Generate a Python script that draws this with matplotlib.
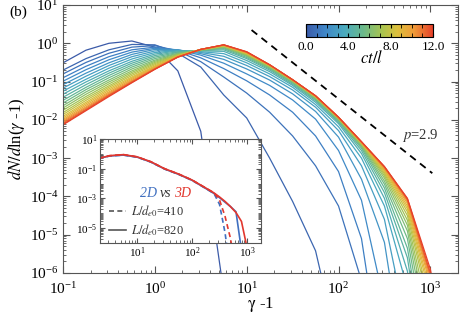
import numpy as np
import matplotlib
matplotlib.use("Agg")
import matplotlib.pyplot as plt
from matplotlib.colors import LinearSegmentedColormap
from matplotlib.lines import Line2D
from matplotlib.ticker import LogLocator, NullFormatter

plt.rcParams['font.family'] = ['Liberation Serif', 'DejaVu Serif']
plt.rcParams['mathtext.fontset'] = 'stix'

# ---- main panel data: log10(dN/dln(gamma-1)) on a shared log10(gamma-1) grid
log_g = [-1.0, -0.75, -0.5, -0.25, 0.0, 0.25, 0.5, 0.75, 1.0, 1.25, 1.5, 1.75,
         2.0, 2.25, 2.5, 2.75, 3.0, 3.25]
nan = np.nan
t_values = [0.0, 0.5, 1.0, 1.5, 2.0, 2.5, 3.0, 3.5, 4.0, 4.5, 5.0, 5.5, 6.0,
            6.5, 7.0, 7.5, 8.0, 8.5, 9.0, 9.5, 10.0, 10.5, 11.0, 11.5, 12.0]

c00 = [-0.51, -0.18, 0.0, 0.06, -0.10, -0.72, -2.3, -6.5, nan, nan, nan, nan, nan, nan, nan, nan, nan, nan]
c01 = [-0.70, -0.40, -0.17, -0.03, -0.04, -0.26, -0.62, -1.35, -1.95, -3.0, -4.13, -5.42, -8.0, nan, nan, nan, nan, nan]
c02 = [-0.80, -0.50, -0.26, -0.10, -0.06, -0.20, -0.48, -0.88, -1.30, -1.80, -2.42, -3.2, -4.25, -6.2, -10, nan, nan, nan]
c03 = [-0.90, -0.60, -0.35, -0.17, -0.10, -0.18, -0.38, -0.66, -0.98, -1.35, -1.80, -2.42, -3.35, -5.1, -9, nan, nan, nan]
c04 = [-0.99, -0.69, -0.43, -0.23, -0.13, -0.17, -0.31, -0.52, -0.80, -1.10, -1.48, -1.98, -2.8, -4.1, -6.8, -10, nan, nan]
c05 = [-1.08, -0.78, -0.51, -0.29, -0.16, -0.17, -0.27, -0.42, -0.67, -0.96, -1.32, -1.78, -2.45, -3.55, -5.2, -9, nan, nan]
c06 = [-1.17, -0.86, -0.58, -0.35, -0.20, -0.18, -0.24, -0.34, -0.58, -0.87, -1.22, -1.67, -2.28, -3.2, -4.6, -7.5, -11, nan]
c07 = [-1.25, -0.94, -0.65, -0.41, -0.24, -0.19, -0.22, -0.27, -0.51, -0.80, -1.15, -1.60, -2.18, -3.0, -4.25, -6.4, -11, nan]
c08 = [-1.33, -1.01, -0.72, -0.47, -0.28, -0.20, -0.20, -0.21, -0.45, -0.74, -1.10, -1.54, -2.10, -2.88, -4.05, -5.95, -10, nan]
c09 = [-1.41, -1.08, -0.78, -0.52, -0.32, -0.22, -0.19, -0.17, -0.40, -0.70, -1.07, -1.50, -2.06, -2.8, -3.9, -5.6, -9.5, nan]
c10 = [-1.49, -1.15, -0.84, -0.57, -0.36, -0.24, -0.185, -0.14, -0.37, -0.67, -1.04, -1.47, -2.03, -2.74, -3.78, -5.35, -8.8, nan]
c11 = [-1.56, -1.21, -0.90, -0.62, -0.40, -0.26, -0.18, -0.12, -0.34, -0.65, -1.02, -1.45, -2.01, -2.70, -3.68, -5.1, -8.4, nan]
c12 = [-1.63, -1.27, -0.96, -0.67, -0.44, -0.27, -0.175, -0.10, -0.32, -0.63, -1.00, -1.43, -1.99, -2.67, -3.6, -4.9, -8.0, nan]
c13 = [-1.69, -1.33, -1.01, -0.72, -0.47, -0.29, -0.17, -0.09, -0.30, -0.61, -0.99, -1.42, -1.98, -2.65, -3.52, -4.75, -7.6, nan]
c14 = [-1.75, -1.39, -1.06, -0.76, -0.50, -0.30, -0.17, -0.08, -0.29, -0.60, -0.98, -1.41, -1.97, -2.63, -3.46, -4.62, -7.3, nan]
c15 = [-1.81, -1.44, -1.11, -0.80, -0.53, -0.31, -0.165, -0.07, -0.28, -0.59, -0.975, -1.40, -1.96, -2.62, -3.41, -4.5, -7.0, nan]
c16 = [-1.86, -1.49, -1.15, -0.84, -0.56, -0.32, -0.165, -0.065, -0.27, -0.585, -0.97, -1.395, -1.955, -2.61, -3.37, -4.4, -6.8, nan]
c17 = [-1.91, -1.54, -1.19, -0.88, -0.59, -0.33, -0.16, -0.06, -0.26, -0.58, -0.965, -1.39, -1.95, -2.60, -3.33, -4.32, -6.6, nan]
c18 = [-1.95, -1.58, -1.23, -0.91, -0.61, -0.34, -0.16, -0.055, -0.25, -0.575, -0.96, -1.385, -1.945, -2.595, -3.30, -4.25, -6.45, nan]
c19 = [-1.99, -1.62, -1.27, -0.94, -0.63, -0.345, -0.16, -0.05, -0.245, -0.57, -0.958, -1.38, -1.94, -2.59, -3.28, -4.18, -6.3, -10]
c20 = [-2.02, -1.66, -1.30, -0.97, -0.65, -0.35, -0.16, -0.048, -0.24, -0.567, -0.956, -1.378, -1.937, -2.585, -3.26, -4.13, -6.2, -10]
c21 = [-2.05, -1.69, -1.33, -0.99, -0.66, -0.355, -0.16, -0.045, -0.235, -0.565, -0.954, -1.376, -1.935, -2.58, -3.24, -4.10, -6.1, -9.5]
c22 = [-2.08, -1.72, -1.35, -1.01, -0.67, -0.36, -0.16, -0.043, -0.23, -0.563, -0.952, -1.374, -1.933, -2.577, -3.23, -4.08, -6.05, -9.5]
c23 = [-2.11, -1.74, -1.37, -1.02, -0.675, -0.36, -0.16, -0.041, -0.225, -0.561, -0.951, -1.372, -1.931, -2.574, -3.225, -4.06, -6.0, -9.3]
c24 = [-2.13, -1.76, -1.39, -1.03, -0.68, -0.36, -0.16, -0.04, -0.22, -0.56, -0.95, -1.37, -1.93, -2.57, -3.22, -4.05, -5.9, -9.0]
curves = [c00, c01, c02, c03, c04, c05, c06, c07, c08, c09, c10, c11, c12,
          c13, c14, c15, c16, c17, c18, c19, c20, c21, c22, c23, c24]

# power-law guide, dN/dgamma ~ gamma^-p
p_index = 2.9
guide_x = [11.3, 1050.0]
guide_y0 = 2.22

# ---- inset data: 2D vs 3D, two box sizes
inset_log_g = [0.3, 0.5, 0.75, 1.0, 1.25, 1.5, 1.75, 2.0, 2.25, 2.4, 2.5, 2.6, 2.7, 2.8, 2.9, 3.0]
d2_820 = [-0.30, -0.14, -0.08, -0.22, -0.55, -1.02, -1.37, -1.78, -2.33, -2.67, -2.95, -3.25, -3.55, -3.9, -6.5, nan]
d3_820 = [-0.30, -0.12, -0.05, -0.20, -0.53, -1.00, -1.35, -1.76, -2.30, -2.63, -2.90, -3.20, -3.55, -3.95, -4.55, -6.3]
d2_410 = [-0.30, -0.14, -0.08, -0.22, -0.55, -1.02, -1.37, -1.78, -2.33, -2.67, -3.4, -5.3, -8.0, nan, nan, nan]
d3_410 = [-0.30, -0.12, -0.05, -0.20, -0.53, -1.00, -1.35, -1.76, -2.30, -2.62, -3.1, -4.2, -5.7, -8.0, nan, nan]

blue = '#3f6fc0'
red = '#e2372e'
axcol = '#555555'

cmap = LinearSegmentedColormap.from_list('ct', [
    (0.0, '#3b5aa8'), (0.15, '#3f86c8'), (0.3, '#4aaabf'), (0.45, '#6bb98a'),
    (0.6, '#a8c450'), (0.72, '#dcbf3c'), (0.85, '#f09a38'), (1.0, '#e6402a')])

fig = plt.figure(figsize=(4.71, 3.15), dpi=100)
ax = fig.add_axes([0.1338, 0.1333, 0.8386, 0.8508])

x_main = 10 ** np.array(log_g)
for t, c in zip(t_values, curves):
    ax.plot(x_main, 10 ** np.array(c), color=cmap(t / 12.0), lw=0.9)

gx = np.array(guide_x)
ax.plot(gx, guide_y0 * (gx / gx[0]) ** (1 - p_index), color='k', lw=1.3,
        dashes=(4, 3))
ax.text(497, 4.0e-3, r'$p$=2.9', fontsize=10.5, ha='left', va='center',
        color='#333333')

ax.set_xscale('log')
ax.set_yscale('log')
ax.set_xlim(0.1, 2000)
ax.set_ylim(1e-6, 10)
ax.xaxis.set_major_locator(LogLocator(base=10, numticks=20))
ax.yaxis.set_major_locator(LogLocator(base=10, numticks=20))
ax.xaxis.set_minor_locator(LogLocator(base=10, subs=np.arange(2, 10), numticks=40))
ax.yaxis.set_minor_locator(LogLocator(base=10, subs=np.arange(2, 10), numticks=40))
ax.yaxis.set_minor_formatter(NullFormatter())
ax.xaxis.set_minor_formatter(NullFormatter())
ax.tick_params(which='both', direction='in', top=True, right=True, colors=axcol,
               labelcolor='k', labelsize=11)
ax.tick_params(which='major', length=5)
ax.tick_params(which='minor', length=2.5)
ax.tick_params(axis='x', which='major', pad=5.5)
for s in ax.spines.values():
    s.set_color(axcol)
ax.set_xlabel(r'$\mathrm{\gamma}$ -1', fontsize=12, labelpad=-1)
ax.set_ylabel(r'$dN/d$ln($\gamma$ -1)', fontsize=12, labelpad=2)
fig.text(0.02, 0.962, '(b)', fontsize=11, va='center')

# colorbar
cax = fig.add_axes([0.6497, 0.8825, 0.2696, 0.0413])
sm = plt.cm.ScalarMappable(cmap=cmap, norm=plt.Normalize(0, 12))
cb = fig.colorbar(sm, cax=cax, orientation='horizontal', ticks=[0, 4, 8, 12])
cb.ax.set_xticklabels(['0.0', '4.0', '8.0', '12.0'])
cb.ax.xaxis.set_minor_locator(plt.MultipleLocator(1))
cb.ax.tick_params(which='both', direction='in', top=True, bottom=True,
                  labelsize=9.5, length=3, pad=3)
cb.outline.set_linewidth(0.8)
fig.text(0.79, 0.813, r'$ct/l$', fontsize=12, ha='center', va='center')

# inset
ins = fig.add_axes([0.2123, 0.2286, 0.3418, 0.330])
xi = 10 ** np.array(inset_log_g)
ins.plot(xi, 10 ** np.array(d2_410), color=blue, lw=1.2, dashes=(3, 2))
ins.plot(xi, 10 ** np.array(d2_820), color=blue, lw=1.2)
ins.plot(xi, 10 ** np.array(d3_410), color=red, lw=1.2, dashes=(3, 2))
ins.plot(xi, 10 ** np.array(d3_820), color=red, lw=1.2)
ins.set_xscale('log')
ins.set_yscale('log')
ins.set_xlim(2.1, 1800)
ins.set_ylim(1e-6, 10)
ins.set_yticks([1e1, 1e-1, 1e-3, 1e-5])
ins.yaxis.set_minor_locator(LogLocator(base=10, subs=np.arange(1, 10), numticks=40))
ins.xaxis.set_minor_locator(LogLocator(base=10, subs=np.arange(2, 10), numticks=40))
ins.yaxis.set_minor_formatter(NullFormatter())
ins.xaxis.set_minor_formatter(NullFormatter())
ins.tick_params(which='both', direction='in', top=True, right=True, colors=axcol,
                labelcolor='k', labelsize=8)
ins.tick_params(which='major', length=3.5, pad=2)
ins.tick_params(which='minor', length=2)
for s in ins.spines.values():
    s.set_color(axcol)
ins.text(0.355, 0.478, '2D', color=blue, fontsize=10, style='italic',
         ha='right', va='center', transform=ins.transAxes)
ins.text(0.405, 0.478, 'vs', color='#333333', fontsize=10, style='italic',
         ha='center', va='center', transform=ins.transAxes)
ins.text(0.46, 0.478, '3D', color=red, fontsize=10, style='italic',
         ha='left', va='center', transform=ins.transAxes)
handles = [Line2D([], [], color='#555555', lw=1.2, dashes=(3, 2)),
           Line2D([], [], color='#555555', lw=1.2)]
ins.legend(handles, [r'$L/d_{e0}$=410', r'$L/d_{e0}$=820'], loc='lower left',
           bbox_to_anchor=(0.0, -0.04), frameon=False, fontsize=9,
           handlelength=1.4, handletextpad=0.35, labelspacing=0.3,
           borderaxespad=0.3, labelcolor='#333333')

fig.savefig('out.png', dpi=100)
